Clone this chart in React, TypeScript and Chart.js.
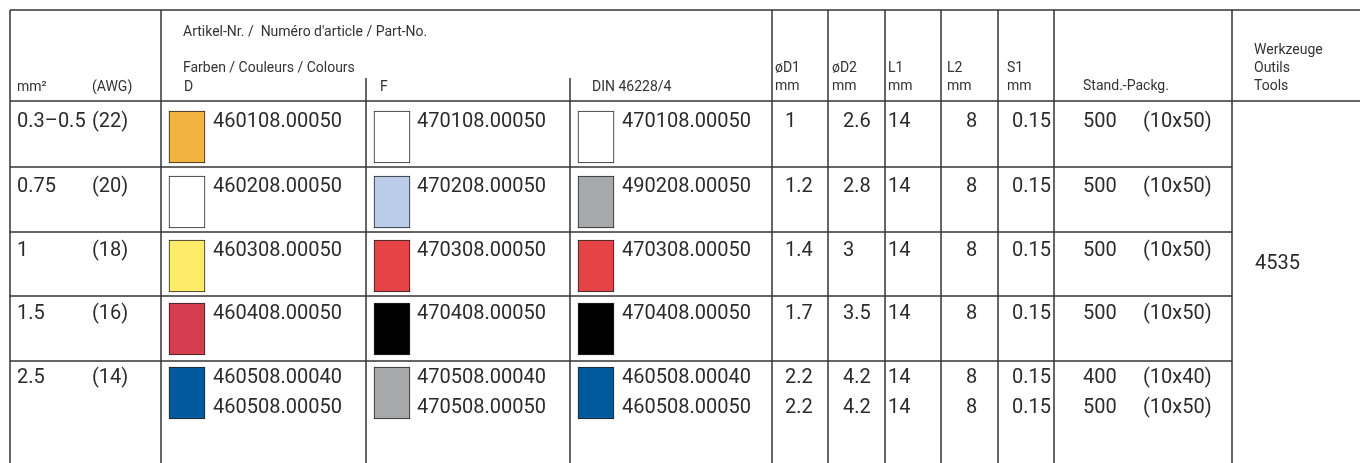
import React, { useEffect, useRef } from "react";
import { Chart, registerables } from "chart.js";

Chart.register(...registerables);

// ---------- data ----------
const sizes = ["0.3–0.5", "0.75", "1", "1.5", "2.5"];
const awg = ["(22)", "(20)", "(18)", "(16)", "(14)"];
const partD = [["460108.00050"], ["460208.00050"], ["460308.00050"], ["460408.00050"], ["460508.00040", "460508.00050"]];
const partF = [["470108.00050"], ["470208.00050"], ["470308.00050"], ["470408.00050"], ["470508.00040", "470508.00050"]];
const partDIN = [["470108.00050"], ["490208.00050"], ["470308.00050"], ["470408.00050"], ["460508.00040", "460508.00050"]];
const colorD = ["#F2B441", "#FFFFFF", "#FBEB66", "#D63D4E", "#005A9C"];
const colorF = ["#FFFFFF", "#BBCBEA", "#E54346", "#000000", "#A6A8A9"];
const colorDIN = ["#FFFFFF", "#A6A8A9", "#E54346", "#000000", "#005A9C"];
const d1 = [["1"], ["1.2"], ["1.4"], ["1.7"], ["2.2", "2.2"]];
const d2 = [["2.6"], ["2.8"], ["3"], ["3.5"], ["4.2", "4.2"]];
const l1 = [["14"], ["14"], ["14"], ["14"], ["14", "14"]];
const l2 = [["8"], ["8"], ["8"], ["8"], ["8", "8"]];
const s1 = [["0.15"], ["0.15"], ["0.15"], ["0.15"], ["0.15", "0.15"]];
const qty = [["500"], ["500"], ["500"], ["500"], ["400", "500"]];
const pack = [["(10x50)"], ["(10x50)"], ["(10x50)"], ["(10x50)"], ["(10x40)", "(10x50)"]];
const toolNo = "4535";

// ---------- layout ----------
const W = 1360;
const H = 463;
const TOP = 10;
const HEADER_BOTTOM = 101;
const rowLines = [167, 232, 296, 361];
const rowBaselines = [127, 192, 256, 319, 383];
const LINE_GAP = 30;
const SWATCH_UP = 16;
const SWATCH_H = 52;
const SWATCH_W = 36;
const colD = 161, colF = 366, colDIN = 570;
const fullVLines = [10, 161, 772, 828, 885, 941, 998, 1054, 1232];
const partialVLines = [366, 570];
const PARTIAL_TOP = 78;
const TABLE_RIGHT = 1232;

const swatchData = (col: number, colors: string[]) =>
  colors.map((_, i) => ({
    x: col + 8 + SWATCH_W / 2,
    y: [rowBaselines[i] - SWATCH_UP, rowBaselines[i] - SWATCH_UP + SWATCH_H],
  }));

const FONT = "Roboto, 'Liberation Sans', sans-serif";

const tablePlugin = {
  id: "tablePlugin",
  beforeDatasetsDraw(chart: any) {
    const ctx = chart.ctx;
    const X = (v: number) => chart.scales.x.getPixelForValue(v);
    const Y = (v: number) => chart.scales.y.getPixelForValue(v);
    ctx.save();
    ctx.strokeStyle = "#333";
    ctx.lineWidth = 1.5;
    const line = (x1: number, y1: number, x2: number, y2: number) => {
      ctx.beginPath();
      ctx.moveTo(X(x1), Y(y1));
      ctx.lineTo(X(x2), Y(y2));
      ctx.stroke();
    };
    line(10, TOP, W, TOP);
    line(10, HEADER_BOTTOM, W, HEADER_BOTTOM);
    rowLines.forEach((y) => line(10, y, TABLE_RIGHT, y));
    fullVLines.forEach((x) => line(x, TOP, x, H));
    partialVLines.forEach((x) => line(x, PARTIAL_TOP, x, H));
    ctx.restore();
  },
  afterDatasetsDraw(chart: any) {
    const ctx = chart.ctx;
    const X = (v: number) => chart.scales.x.getPixelForValue(v);
    const Y = (v: number) => chart.scales.y.getPixelForValue(v);
    ctx.save();
    ctx.textBaseline = "alphabetic";
    ctx.textAlign = "left";
    const txt = (s: string, x: number, y: number, size: number, color = "#2b2b2b") => {
      ctx.font = `${size}px ${FONT}`;
      ctx.fillStyle = color;
      ctx.fillText(s, X(x), Y(y));
    };
    // header
    const hs = 14;
    const hc = "#333";
    txt("Artikel-Nr. /  Numéro d'article / Part-No.", 183, 36, hs, hc);
    txt("Farben / Couleurs / Colours", 183, 72, hs, hc);
    txt("mm²", 17, 91, hs, hc);
    txt("(AWG)", 92, 91, hs, hc);
    txt("D", 184, 91, hs, hc);
    txt("F", 380, 91, hs, hc);
    txt("DIN 46228/4", 592, 91, hs, hc);
    [["øD1", 775], ["øD2", 832], ["L1", 888], ["L2", 947], ["S1", 1007]].forEach(([t, x]) => {
      txt(t as string, x as number, 72, hs, hc);
      txt("mm", x as number, 90, hs, hc);
    });
    txt("Stand.-Packg.", 1083, 90, hs, hc);
    txt("Werkzeuge", 1254, 54, hs, hc);
    txt("Outils", 1254, 72, hs, hc);
    txt("Tools", 1254, 90, hs, hc);

    // body
    const bs = 20;
    sizes.forEach((s, i) => {
      const b = rowBaselines[i];
      txt(s, 17, b, bs);
      txt(awg[i], 92, b, bs);
      const cols: [string[][], number][] = [
        [partD, colD + 52],
        [partF, colF + 51],
        [partDIN, colDIN + 52],
        [d1, 785],
        [d2, 843],
        [l1, 888],
        [l2, 966],
        [s1, 1012],
        [qty, 1083],
        [pack, 1143],
      ];
      cols.forEach(([arr, x]) => {
        arr[i].forEach((t, k) => txt(t, x, b + k * LINE_GAP, bs));
      });
    });
    txt(toolNo, 1255, 269, bs);
    ctx.restore();
  },
};

export default function App() {
  const ref = useRef<HTMLCanvasElement>(null);
  useEffect(() => {
    if (!ref.current) return;
    const mk = (col: number, colors: string[], label: string) => ({
      type: "bar" as const,
      label,
      data: swatchData(col, colors) as any,
      backgroundColor: colors,
      borderColor: "#222",
      borderWidth: 1,
      borderSkipped: false as const,
      barThickness: SWATCH_W,
      grouped: false,
    });
    const chart = new Chart(ref.current, {
      type: "bar",
      data: {
        datasets: [mk(colD, colorD, "D"), mk(colF, colorF, "F"), mk(colDIN, colorDIN, "DIN")],
      },
      options: {
        animation: false,
        responsive: false,
        devicePixelRatio: 1,
        layout: { padding: 0 },
        plugins: { legend: { display: false }, tooltip: { enabled: false } },
        scales: {
          x: { type: "linear", min: 0, max: W, display: false, offset: false },
          y: { type: "linear", min: 0, max: H, reverse: true, display: false },
        },
      },
      plugins: [tablePlugin],
    });
    return () => chart.destroy();
  }, []);
  return (
    <div style={{ position: "fixed", left: 0, top: 0, width: W, height: H, background: "#fff" }}>
      <canvas ref={ref} width={W} height={H} style={{ display: "block" }} />
    </div>
  );
}
